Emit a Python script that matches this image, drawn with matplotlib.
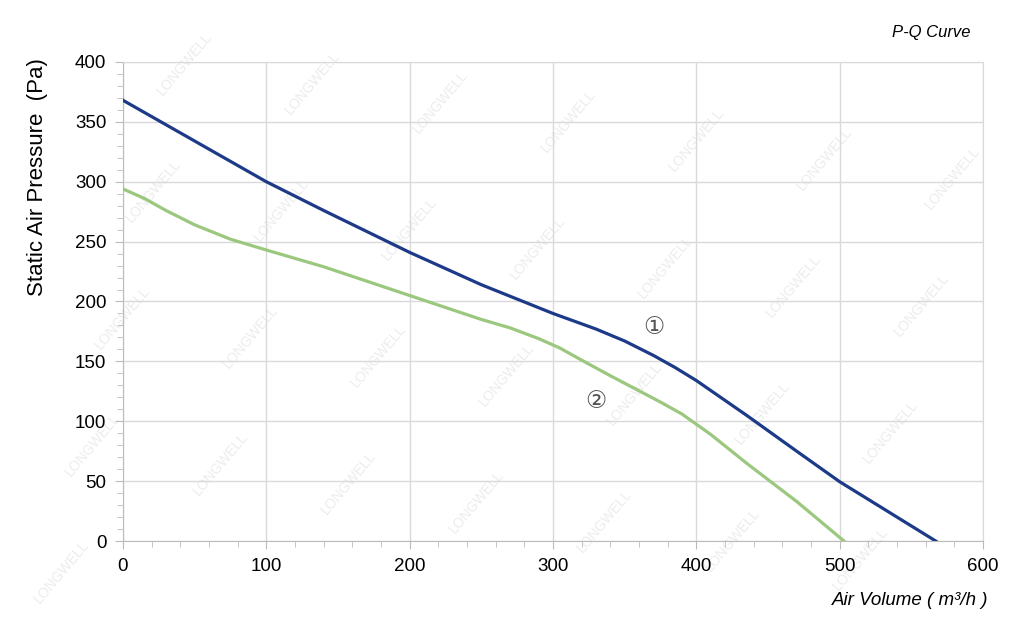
import matplotlib
matplotlib.use("Agg")
import matplotlib.pyplot as plt
from matplotlib.ticker import MultipleLocator

plt.rcParams['font.family'] = ['Liberation Sans', 'DejaVu Sans']

# curve 1 (blue)
q1 = [0, 50, 100, 140, 200, 250, 300, 330, 350, 370, 385, 400, 435, 470, 500, 567]
p1 = [368, 334, 300, 276, 241, 214, 190, 177, 167, 155, 145, 134, 105, 75, 49.5, 0]
# curve 2 (green)
q2 = [0, 15, 30, 50, 75, 100, 140, 200, 250, 270, 290, 305, 320, 340, 375, 390, 410, 435, 470, 503]
p2 = [294, 286, 276, 264, 252, 243, 229, 205, 185, 178, 169, 161, 151, 138, 116, 106, 89, 65, 33, 0]

labels = ['①', '②']
label_pos = [(370, 179), (330, 117)]

fig = plt.figure(figsize=(10.24, 6.35), dpi=100)
ax = fig.add_axes([0.1201, 0.148, 0.8399, 0.7544])
ax.patch.set_alpha(0)

ax.plot(q1, p1, color='#1c3a88', lw=2.3, zorder=3, solid_joinstyle='round')
ax.plot(q2, p2, color='#9cc77e', lw=2.3, zorder=3, solid_joinstyle='round')

for t, (x, y) in zip(labels, label_pos):
    ax.text(x, y, t, fontsize=17, color='#555555', ha='center', va='center',
            family=['DejaVu Sans'])

ax.set_xlim(0, 600)
ax.set_ylim(0, 400)
ax.xaxis.set_major_locator(MultipleLocator(100))
ax.xaxis.set_minor_locator(MultipleLocator(20))
ax.yaxis.set_major_locator(MultipleLocator(50))
ax.yaxis.set_minor_locator(MultipleLocator(10))
ax.grid(True, which='major', color='#d9d9d9', lw=1.0)
ax.set_axisbelow(True)

for s in ax.spines.values():
    s.set_color('#d9d9d9')
ax.spines['left'].set_color('#bbbbbb')
ax.spines['bottom'].set_color('#bbbbbb')
ax.tick_params(which='both', color='#bbbbbb', direction='out')
ax.tick_params(which='major', length=6, labelsize=13.5, pad=6)
ax.tick_params(which='minor', length=4)

ax.set_ylabel('Static Air Pressure  (Pa)', fontsize=16)
ax.yaxis.set_label_coords(-0.087, 0.76)
fig.text(0.965, 0.055, 'Air Volume ( m³/h )', fontsize=13.5, style='italic',
         ha='right', va='center')
fig.text(0.948, 0.949, 'P-Q Curve', fontsize=12, style='italic',
         ha='right', va='center')

# faint watermark, kept inside the figure
for i in range(8):
    for j in range(5):
        x = 0.06 + 0.125 * i + 0.03 * j
        y = 0.1 + 0.2 * j - 0.03 * i
        if 0.05 < x < 0.95 and 0.07 < y < 0.93:
            fig.text(x, y, 'LONGWELL', fontsize=10, color='#ececec',
                     rotation=50, ha='center', va='center', zorder=-1)

fig.savefig('out.png', dpi=100)
